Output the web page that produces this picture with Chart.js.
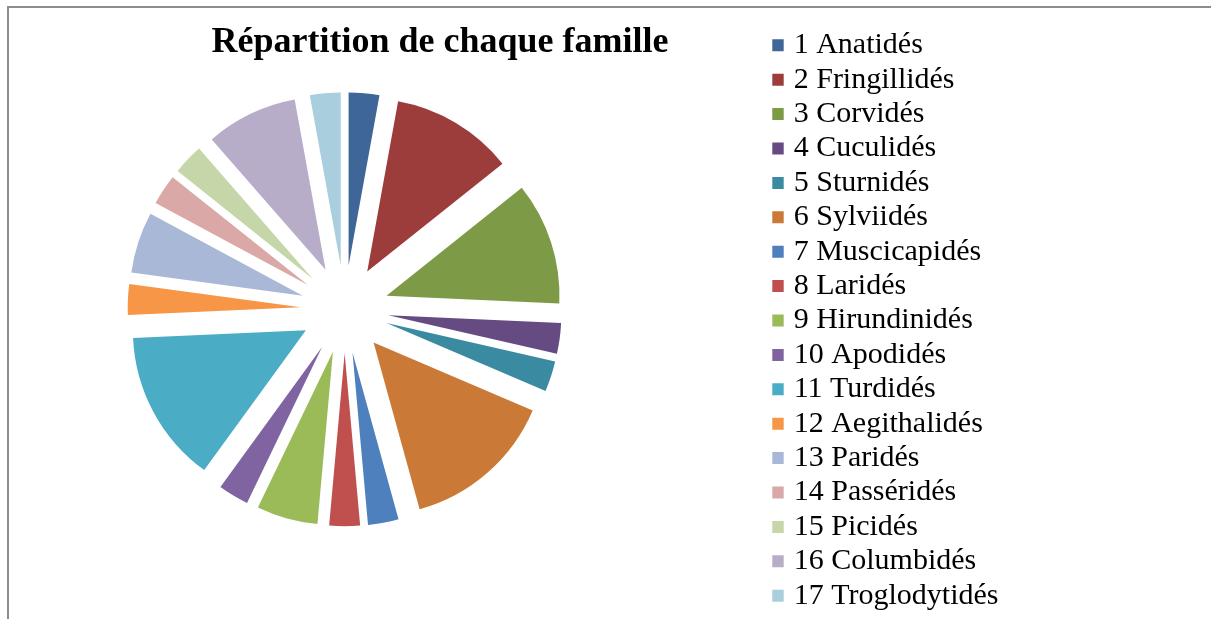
<!DOCTYPE html>
<html lang="fr">
<head>
<meta charset="utf-8">
<title>Répartition de chaque famille</title>
<script src="https://cdn.jsdelivr.net/npm/chart.js@4.4.1/dist/chart.umd.min.js"></script>
<style>
  html, body { margin: 0; padding: 0; background: #fff; }
  #wrap { position: relative; width: 1211px; height: 619px; overflow: hidden; }
  /* grey frame of the original sheet, top and left only */
  #frame {
    position: absolute; left: 7px; top: 6px; right: -10px; bottom: -10px;
    border-top: 2px solid #8d8d8d; border-left: 2px solid #8d8d8d;
  }
  /* canvas starts off-screen so the pie sits left of centre, far from the legend */
  #famille_pie { position: absolute; left: -83px; top: 0; }
</style>
</head>
<body>
<div id="wrap">
  <div id="frame"></div>
  <canvas id="famille_pie" width="1294" height="619"></canvas>
</div>
<script>
// familles and number of species in each
const familles = ['Anatidés', 'Fringillidés', 'Corvidés', 'Cuculidés', 'Sturnidés', 'Sylviidés',
  'Muscicapidés', 'Laridés', 'Hirundinidés', 'Apodidés', 'Turdidés', 'Aegithalidés',
  'Paridés', 'Passéridés', 'Picidés', 'Columbidés', 'Troglodytidés'];
const especes = [1, 4, 4, 1, 1, 5, 1, 1, 2, 1, 5, 1, 2, 1, 1, 3, 1];
const couleurs = ['#3E6698', '#9C3D3C', '#7D9A46', '#664B82', '#3A8BA1', '#CB7937',
  '#4D80BD', '#C0504D', '#9BBB59', '#8064A2', '#4BACC6', '#F79646',
  '#A9B8D7', '#D9A8A7', '#C5D6A9', '#B8ADC8', '#A9CEDD'];
const titre = 'Répartition de chaque famille';

// legend text is "n Famille"
const etiquettes = familles.map((f, i) => (i + 1) + ' ' + f);

const pieRadius = 173;
const explode = 44;   // every slice pulled out by the same distance
const titreX = 523;   // title is centred between pie and legend, not over the pie
const titreY = 43;

// push each arc out along its bisector (chart.js offset also resizes small arcs)
const explodePie = {
  id: 'explodePie',
  beforeDatasetsDraw(chart) {
    const {left, right, top, bottom} = chart.chartArea;
    const cx = (left + right) / 2;
    const cy = (top + bottom) / 2;
    chart.getDatasetMeta(0).data.forEach(arc => {
      const mid = (arc.startAngle + arc.endAngle) / 2;
      arc.x = cx + Math.cos(mid) * explode;
      arc.y = cy + Math.sin(mid) * explode;
    });
  }
};

const titrePlugin = {
  id: 'titre',
  afterDraw(chart) {
    const ctx = chart.ctx;
    ctx.save();
    ctx.font = 'bold 36px "Liberation Serif"';
    ctx.fillStyle = '#000';
    ctx.textAlign = 'center';
    ctx.textBaseline = 'middle';
    ctx.fillText(titre, titreX, titreY);
    ctx.restore();
  }
};

const canvasPie = document.getElementById('famille_pie');
const ctxPie = canvasPie.getContext('2d');

const chartPie = new Chart(ctxPie, {
  type: 'pie',
  data: {
    labels: etiquettes,
    datasets: [{
      data: especes,
      backgroundColor: couleurs,
      borderWidth: 0,
      radius: pieRadius,
      clip: false
    }]
  },
  options: {
    responsive: false,
    animation: false,
    events: [],
    layout: {
      padding: { left: 0, right: 203.7, top: 3.5, bottom: 3.9 }
    },
    plugins: {
      title: { display: false },
      legend: {
        position: 'right',
        align: 'end',
        maxWidth: 235,
        labels: {
          color: '#000',
          font: { family: 'Liberation Serif', size: 30 },
          usePointStyle: true,
          pointStyle: 'rect',
          boxWidth: 2,
          boxHeight: 12,
          padding: 4.4
        }
      },
      tooltip: { enabled: false }
    }
  },
  plugins: [explodePie, titrePlugin]
});
</script>
</body>
</html>
